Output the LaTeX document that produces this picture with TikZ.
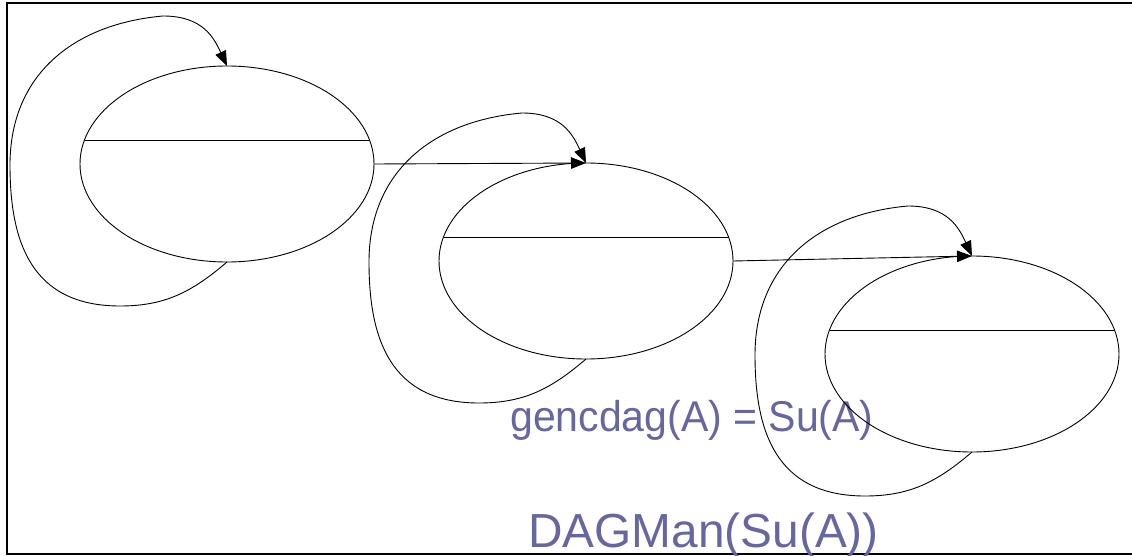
\documentclass[tikz,border=0pt]{standalone}
\usepackage{fontspec}
\setmainfont{Liberation Sans}
\usetikzlibrary{shapes.geometric,arrows.meta,positioning}
\definecolor{dagblue}{RGB}{102,102,160}

\begin{document}
\begin{tikzpicture}[x=1pt,y=-1pt,on grid,
    part/.style={ellipse,draw,line width=0.9pt,minimum width=294pt,minimum height=196pt,inner sep=0pt,outer sep=0pt},
    flow/.style={-{Triangle[length=15pt,width=11.5pt]},line width=0.9pt},
    dagtext/.style={text=dagblue,anchor=base west,inner sep=0pt}]
    \useasboundingbox (0,0) rectangle (1132,556);
    \draw[line width=2pt] (1132,3.5) -- (7,3.5) -- (7,553.5) -- (1132,553.5);

    \node[dagtext,font=\fontsize{41}{45}\selectfont,yscale=1.05] (gen) at (510,431) {gencdag(A) = Su(A)};
    \node[dagtext,font=\fontsize{47.8}{52}\selectfont] (man) at (528,547) {DAGMan(Su(A))};

    \node[part] (s1) at (227,164) {};
    \node[part] (s2) [below right=97pt and 359pt of s1] {};
    \node[part] (s3) [below right=93pt and 386pt of s2] {};

    % chord and self loop of each part
    \foreach \s in {s1,s2,s3} {
      \draw[line width=0.9pt] ([shift={(-142.5,-24)}]\s.center) -- ([shift={(142.5,-24)}]\s.center);
      \draw[flow] (\s.south) .. controls +(-35,30) and +(45,0) .. ++(-107,44)
                  .. controls +(-90,0) and +(0,75) .. ++(-110,-141)
                  .. controls +(0,-90) and +(-90,8) .. ++(153,-149)
                  .. controls +(40,0) and +(-13,-28) .. (\s.north);
    }

    \draw[flow] (s1.east) -- (s2.north);
    \draw[flow] (s2.east) -- (s3.north);
\end{tikzpicture}
\end{document}
